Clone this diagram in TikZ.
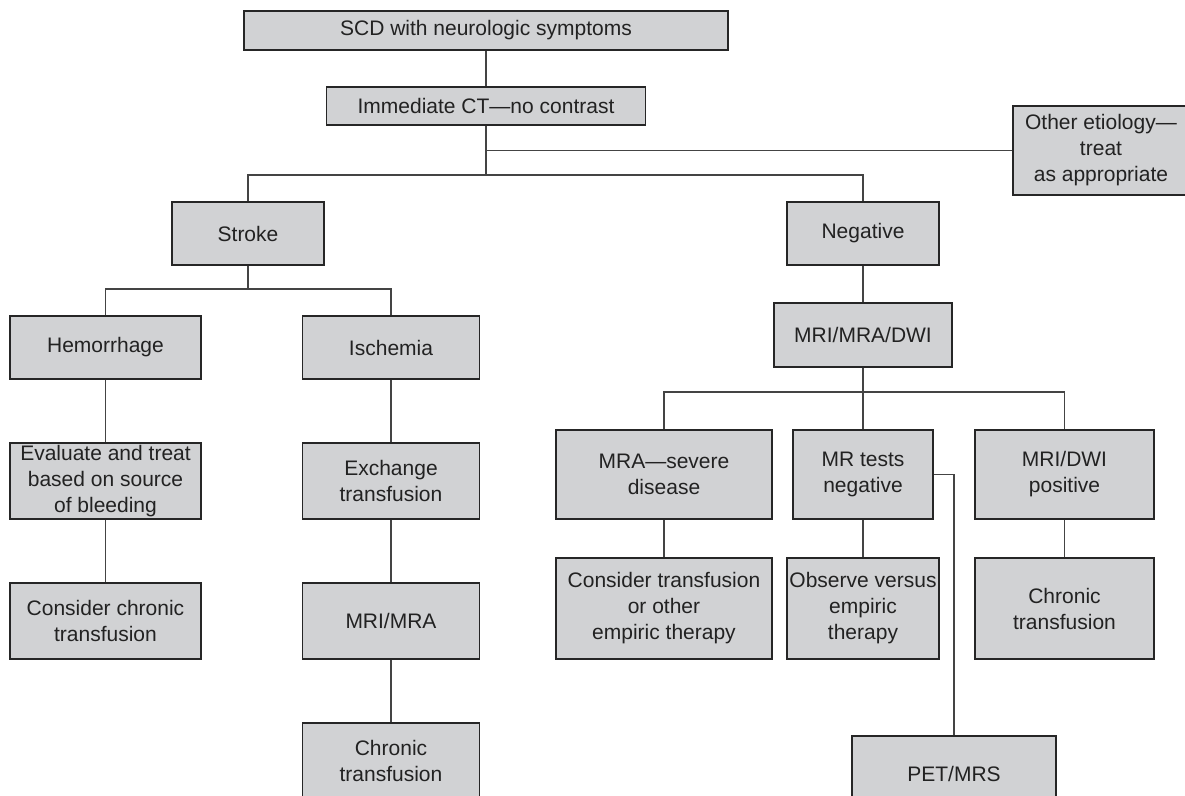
\documentclass[tikz,border=0pt]{standalone}
\usepackage{fontspec}
\setmainfont{Liberation Sans}
\definecolor{boxgray}{HTML}{D1D2D4}
\definecolor{linegray}{HTML}{444444}
\definecolor{textgray}{HTML}{222222}
\tikzset{
  box/.style={draw=black!85,line width=0.75pt,fill=boxgray,text=textgray,align=center,
    inner sep=1pt,font=\fontsize{10.5}{13}\selectfont},
  link/.style={draw=linegray,line width=0.6pt}
}
\begin{document}
\begin{tikzpicture}[x=0.5pt,y=-0.5pt]
\useasboundingbox[fill=white] (0,0) rectangle (1185,796);
% top
\node[box,minimum width=94pt,minimum height=44.5pt] (other) at (1107,150.5) {};
\node[box,minimum width=242pt,minimum height=19.5pt] (scd) at (486,30.5) {SCD with neurologic symptoms};
\node[box,minimum width=159.5pt,minimum height=19pt] (ct) at (486,106) {Immediate CT---no contrast};
\node[align=center,text=textgray,font=\fontsize{10.5}{13}\selectfont] (othertxt) at (1101,150.5) {Other etiology---\\treat\\as appropriate};
\node[box,minimum width=76pt,minimum height=31.5pt] (stroke) at (248,233.5) {Stroke};
\node[box,minimum width=76pt,minimum height=31.5pt] (neg) at (863,233.5) {Negative};
% stroke side
\node[box,minimum width=95.5pt,minimum height=31.5pt] (hem) at (105.5,347.5) {Hemorrhage};
\node[box,minimum width=88.5pt,minimum height=31.5pt] (isch) at (391,347.5) {Ischemia};
\node[box,minimum width=95.5pt,minimum height=38pt] (eval) at (105.5,481) {Evaluate and treat\\based on source\\of bleeding};
\node[box,minimum width=88.5pt,minimum height=38pt] (exch) at (391,481) {Exchange\\transfusion};
\node[box,minimum width=95.5pt,minimum height=38pt] (conschr) at (105.5,621) {Consider chronic\\transfusion};
\node[box,minimum width=88.5pt,minimum height=38pt] (mrimra) at (391,621) {MRI/MRA};
\node[box,minimum width=88.5pt,minimum height=38pt] (chronA) at (391,761) {Chronic\\transfusion};
% negative side
\node[box,minimum width=89pt,minimum height=32pt] (mri) at (863,335) {MRI/MRA/DWI};
\node[box,minimum width=108pt,minimum height=44.5pt] (mrasev) at (664,474.5) {MRA---severe\\disease};
\node[box,minimum width=70pt,minimum height=44.5pt] (mrneg) at (863,474.5) {MR tests\\negative};
\node[box,minimum width=89.5pt,minimum height=44.5pt] (mripos) at (1064.5,474.5) {MRI/DWI\\positive};
\node[box,minimum width=108pt,minimum height=50.5pt] (constr) at (664,608.5) {Consider transfusion\\or other\\empiric therapy};
\node[box,minimum width=76pt,minimum height=50.5pt] (obs) at (863,608.5) {Observe versus\\empiric\\therapy};
\node[box,minimum width=89.5pt,minimum height=50.5pt] (chronB) at (1064.5,608.5) {Chronic\\transfusion};
\node[box,minimum width=102pt,minimum height=38pt] (pet) at (954,774) {PET/MRS};
% connectors
\coordinate (split1) at (486,175);
\coordinate (split2) at (248,289);
\coordinate (split3) at (863,392);
\draw[link] (scd) -- (ct);
\draw[link] (ct.south) -- (split1);
\draw[link] (ct.south |- other.west) -- (other.west);
\draw[link] (stroke.north) |- (split1) -| (neg.north);
\draw[link] (stroke.south) -- (split2);
\draw[link] (hem.north) |- (split2) -| (isch.north);
\draw[link] (hem) -- (eval);
\draw[link] (eval) -- (conschr);
\draw[link] (isch) -- (exch);
\draw[link] (exch) -- (mrimra);
\draw[link] (mrimra) -- (chronA);
\draw[link] (neg) -- (mri);
\draw[link] (mri.south) -- (split3) -- (mrneg.north);
\draw[link] (mrasev.north) |- (split3) -| (mripos.north);
\draw[link] (mrasev) -- (constr);
\draw[link] (mrneg) -- (obs);
\draw[link] (mripos) -- (chronB);
\draw[link] (mrneg.east) -| (pet.north);
\end{tikzpicture}
\end{document}
